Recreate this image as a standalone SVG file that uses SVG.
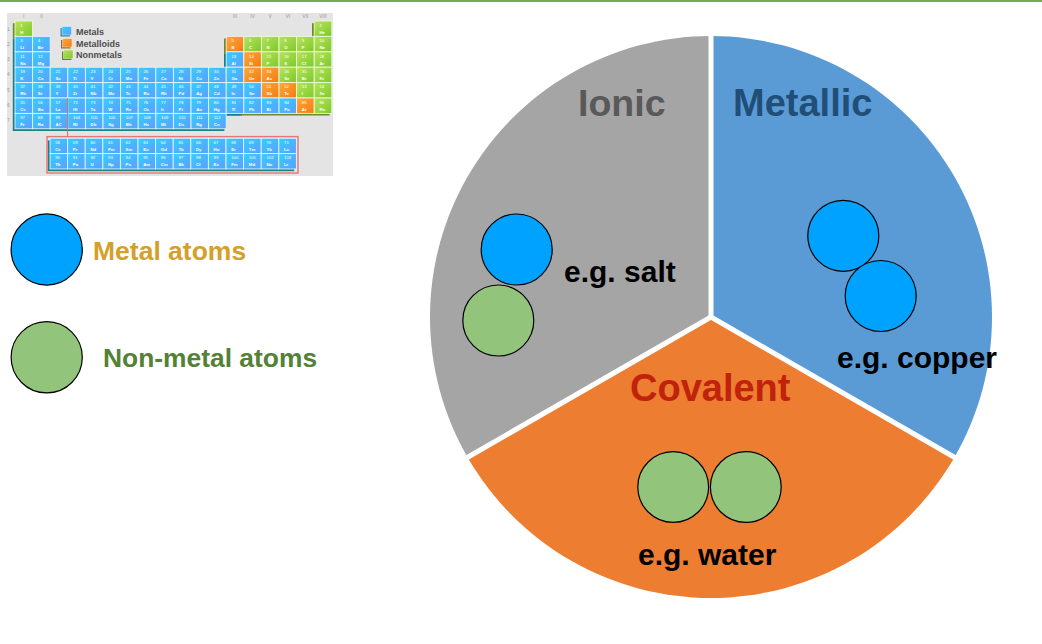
<svg xmlns="http://www.w3.org/2000/svg" width="1042" height="644" viewBox="0 0 1042 644">
<style>
.m{fill:url(#gm);stroke:#e3f4ff;stroke-width:0.9}
.n{fill:url(#gn);stroke:#eef8dc;stroke-width:0.9}
.o{fill:url(#go);stroke:#fff0de;stroke-width:0.9}
.tt text{font-family:"Liberation Sans",Arial,sans-serif;font-size:4.3px;fill:#ffffff}
.tt tspan{font-weight:bold}
.gl{font-family:"Liberation Sans",Arial,sans-serif;font-size:5px;fill:#9a9a9a;text-anchor:middle}
.lg{font-family:"Liberation Sans",Arial,sans-serif;font-size:9px;font-weight:bold;fill:#4d4d4d}
.big{font-family:"Liberation Sans",Arial,sans-serif;font-weight:bold}
.atom{stroke:#000;stroke-width:1.2}
.blue{fill:#00a2ff}
.green{fill:#93c47b}
.sep{stroke:#ffffff;stroke-width:5;fill:none}
.sht{fill:#1b7d86}
.sho{fill:#6f8a2a}
</style>
<defs>
<linearGradient id="gm" x1="0" y1="0" x2="1" y2="1"><stop offset="0" stop-color="#34d0ff"/><stop offset="1" stop-color="#5c9dff"/></linearGradient>
<linearGradient id="gn" x1="0" y1="0" x2="1" y2="1"><stop offset="0" stop-color="#b8e45a"/><stop offset="1" stop-color="#7cc82c"/></linearGradient>
<linearGradient id="go" x1="0" y1="0" x2="1" y2="1"><stop offset="0" stop-color="#ffa83a"/><stop offset="1" stop-color="#f27a12"/></linearGradient>
<rect id="cm" class="m" width="17.6" height="15.4"/>
<rect id="cn" class="n" width="17.6" height="15.4"/>
<rect id="co" class="o" width="17.6" height="15.4"/>
</defs>
<rect x="0" y="0" width="1042" height="644" fill="#ffffff"/>
<rect x="0" y="0" width="1042" height="2" fill="#78ab50"/>

<g id="periodic-table">
<rect x="7" y="13" width="326" height="163" fill="#e4e4e4"/>
<g>
<text class="gl" x="23.8" y="18">I</text><text class="gl" x="41.4" y="18">II</text>
<text class="gl" x="235" y="18">III</text><text class="gl" x="252.6" y="18">IV</text><text class="gl" x="270.2" y="18">V</text><text class="gl" x="287.8" y="18">VI</text><text class="gl" x="305.4" y="18">VII</text><text class="gl" x="323" y="18">VIII</text>
<text class="gl" x="8.5" y="31">1</text><text class="gl" x="8.5" y="46">2</text><text class="gl" x="8.5" y="61">3</text><text class="gl" x="8.5" y="76">4</text><text class="gl" x="8.5" y="92">5</text><text class="gl" x="8.5" y="107">6</text><text class="gl" x="8.5" y="122">7</text>
</g>
<g id="pt-shadows">
<polygon class="sht" points="12.8,38.6 48.4,38.6 48.4,69.4 224.4,69.4 224.4,131 12.8,131"/>
<rect class="sho" x="12.8" y="23.2" width="17.6" height="15.4"/>
<rect class="sho" x="312" y="23.2" width="17.6" height="15.4"/>
<polygon class="sho" points="224,38.6 329.6,38.6 329.6,115.6 224,115.6"/>
<rect class="sht" x="224" y="54" width="17.6" height="61.6"/>
<rect class="sht" x="47.8" y="140.4" width="246.4" height="30.8"/>
</g>
<g id="ptcells">
<use href="#cn" x="15" y="21"/><use href="#cn" x="314.2" y="21"/>
<use href="#cm" x="15" y="36.4"/><use href="#cm" x="32.6" y="36.4"/><use href="#co" x="226.2" y="36.4"/><use href="#cn" x="243.8" y="36.4"/><use href="#cn" x="261.4" y="36.4"/><use href="#cn" x="279" y="36.4"/><use href="#cn" x="296.6" y="36.4"/><use href="#cn" x="314.2" y="36.4"/>
<use href="#cm" x="15" y="51.8"/><use href="#cm" x="32.6" y="51.8"/><use href="#cm" x="226.2" y="51.8"/><use href="#co" x="243.8" y="51.8"/><use href="#cn" x="261.4" y="51.8"/><use href="#cn" x="279" y="51.8"/><use href="#cn" x="296.6" y="51.8"/><use href="#cn" x="314.2" y="51.8"/>
<use href="#cm" x="15" y="67.2"/><use href="#cm" x="32.6" y="67.2"/><use href="#cm" x="50.2" y="67.2"/><use href="#cm" x="67.8" y="67.2"/><use href="#cm" x="85.4" y="67.2"/><use href="#cm" x="103" y="67.2"/><use href="#cm" x="120.6" y="67.2"/><use href="#cm" x="138.2" y="67.2"/><use href="#cm" x="155.8" y="67.2"/><use href="#cm" x="173.4" y="67.2"/><use href="#cm" x="191" y="67.2"/><use href="#cm" x="208.6" y="67.2"/><use href="#cm" x="226.2" y="67.2"/><use href="#co" x="243.8" y="67.2"/><use href="#co" x="261.4" y="67.2"/><use href="#cn" x="279" y="67.2"/><use href="#cn" x="296.6" y="67.2"/><use href="#cn" x="314.2" y="67.2"/>
<use href="#cm" x="15" y="82.6"/><use href="#cm" x="32.6" y="82.6"/><use href="#cm" x="50.2" y="82.6"/><use href="#cm" x="67.8" y="82.6"/><use href="#cm" x="85.4" y="82.6"/><use href="#cm" x="103" y="82.6"/><use href="#cm" x="120.6" y="82.6"/><use href="#cm" x="138.2" y="82.6"/><use href="#cm" x="155.8" y="82.6"/><use href="#cm" x="173.4" y="82.6"/><use href="#cm" x="191" y="82.6"/><use href="#cm" x="208.6" y="82.6"/><use href="#cm" x="226.2" y="82.6"/><use href="#cm" x="243.8" y="82.6"/><use href="#co" x="261.4" y="82.6"/><use href="#co" x="279" y="82.6"/><use href="#cn" x="296.6" y="82.6"/><use href="#cn" x="314.2" y="82.6"/>
<use href="#cm" x="15" y="98"/><use href="#cm" x="32.6" y="98"/><use href="#cm" x="50.2" y="98"/><use href="#cm" x="67.8" y="98"/><use href="#cm" x="85.4" y="98"/><use href="#cm" x="103" y="98"/><use href="#cm" x="120.6" y="98"/><use href="#cm" x="138.2" y="98"/><use href="#cm" x="155.8" y="98"/><use href="#cm" x="173.4" y="98"/><use href="#cm" x="191" y="98"/><use href="#cm" x="208.6" y="98"/><use href="#cm" x="226.2" y="98"/><use href="#cm" x="243.8" y="98"/><use href="#cm" x="261.4" y="98"/><use href="#cm" x="279" y="98"/><use href="#co" x="296.6" y="98"/><use href="#cn" x="314.2" y="98"/>
<use href="#cm" x="15" y="113.4"/><use href="#cm" x="32.6" y="113.4"/><use href="#cm" x="50.2" y="113.4"/><use href="#cm" x="67.8" y="113.4"/><use href="#cm" x="85.4" y="113.4"/><use href="#cm" x="103" y="113.4"/><use href="#cm" x="120.6" y="113.4"/><use href="#cm" x="138.2" y="113.4"/><use href="#cm" x="155.8" y="113.4"/><use href="#cm" x="173.4" y="113.4"/><use href="#cm" x="191" y="113.4"/><use href="#cm" x="208.6" y="113.4"/>
<use href="#cm" x="50" y="138.2"/><use href="#cm" x="67.6" y="138.2"/><use href="#cm" x="85.2" y="138.2"/><use href="#cm" x="102.8" y="138.2"/><use href="#cm" x="120.4" y="138.2"/><use href="#cm" x="138" y="138.2"/><use href="#cm" x="155.6" y="138.2"/><use href="#cm" x="173.2" y="138.2"/><use href="#cm" x="190.8" y="138.2"/><use href="#cm" x="208.4" y="138.2"/><use href="#cm" x="226" y="138.2"/><use href="#cm" x="243.6" y="138.2"/><use href="#cm" x="261.2" y="138.2"/><use href="#cm" x="278.8" y="138.2"/>
<use href="#cm" x="50" y="153.6"/><use href="#cm" x="67.6" y="153.6"/><use href="#cm" x="85.2" y="153.6"/><use href="#cm" x="102.8" y="153.6"/><use href="#cm" x="120.4" y="153.6"/><use href="#cm" x="138" y="153.6"/><use href="#cm" x="155.6" y="153.6"/><use href="#cm" x="173.2" y="153.6"/><use href="#cm" x="190.8" y="153.6"/><use href="#cm" x="208.4" y="153.6"/><use href="#cm" x="226" y="153.6"/><use href="#cm" x="243.6" y="153.6"/><use href="#cm" x="261.2" y="153.6"/><use href="#cm" x="278.8" y="153.6"/>
</g>
<rect x="47" y="136.6" width="251" height="36.4" fill="none" stroke="#ea7474" stroke-width="1.4"/>
<line x1="67.6" y1="98" x2="67.6" y2="136.6" stroke="#e06666" stroke-width="1"/>
<g class="tt">
<text x="20.2" y="26.8">1<tspan x="20.2" dy="7">H</tspan></text><text x="319.4" y="26.8">2<tspan x="319.4" dy="7">He</tspan></text>
<text x="20.2" y="42.2">3<tspan x="20.2" dy="7">Li</tspan></text><text x="37.8" y="42.2">4<tspan x="37.8" dy="7">Be</tspan></text><text x="231.4" y="42.2">5<tspan x="231.4" dy="7">B</tspan></text><text x="249" y="42.2">6<tspan x="249" dy="7">C</tspan></text><text x="266.6" y="42.2">7<tspan x="266.6" dy="7">N</tspan></text><text x="284.2" y="42.2">8<tspan x="284.2" dy="7">O</tspan></text><text x="301.8" y="42.2">9<tspan x="301.8" dy="7">F</tspan></text><text x="319.4" y="42.2">10<tspan x="319.4" dy="7">Ne</tspan></text>
<text x="20.2" y="57.6">11<tspan x="20.2" dy="7">Na</tspan></text><text x="37.8" y="57.6">12<tspan x="37.8" dy="7">Mg</tspan></text><text x="231.4" y="57.6">13<tspan x="231.4" dy="7">Al</tspan></text><text x="249" y="57.6">14<tspan x="249" dy="7">Si</tspan></text><text x="266.6" y="57.6">15<tspan x="266.6" dy="7">P</tspan></text><text x="284.2" y="57.6">16<tspan x="284.2" dy="7">S</tspan></text><text x="301.8" y="57.6">17<tspan x="301.8" dy="7">Cl</tspan></text><text x="319.4" y="57.6">18<tspan x="319.4" dy="7">Ar</tspan></text>
<text x="20.2" y="73">19<tspan x="20.2" dy="7">K</tspan></text><text x="37.8" y="73">20<tspan x="37.8" dy="7">Ca</tspan></text><text x="55.4" y="73">21<tspan x="55.4" dy="7">Sc</tspan></text><text x="73" y="73">22<tspan x="73" dy="7">Ti</tspan></text><text x="90.6" y="73">23<tspan x="90.6" dy="7">V</tspan></text><text x="108.2" y="73">24<tspan x="108.2" dy="7">Cr</tspan></text><text x="125.8" y="73">25<tspan x="125.8" dy="7">Mn</tspan></text><text x="143.4" y="73">26<tspan x="143.4" dy="7">Fe</tspan></text><text x="161" y="73">27<tspan x="161" dy="7">Co</tspan></text><text x="178.6" y="73">28<tspan x="178.6" dy="7">Ni</tspan></text><text x="196.2" y="73">29<tspan x="196.2" dy="7">Cu</tspan></text><text x="213.8" y="73">30<tspan x="213.8" dy="7">Zn</tspan></text><text x="231.4" y="73">31<tspan x="231.4" dy="7">Ga</tspan></text><text x="249" y="73">32<tspan x="249" dy="7">Ge</tspan></text><text x="266.6" y="73">33<tspan x="266.6" dy="7">As</tspan></text><text x="284.2" y="73">34<tspan x="284.2" dy="7">Se</tspan></text><text x="301.8" y="73">35<tspan x="301.8" dy="7">Br</tspan></text><text x="319.4" y="73">36<tspan x="319.4" dy="7">Kr</tspan></text>
<text x="20.2" y="88.4">37<tspan x="20.2" dy="7">Rb</tspan></text><text x="37.8" y="88.4">38<tspan x="37.8" dy="7">Sr</tspan></text><text x="55.4" y="88.4">39<tspan x="55.4" dy="7">Y</tspan></text><text x="73" y="88.4">40<tspan x="73" dy="7">Zr</tspan></text><text x="90.6" y="88.4">41<tspan x="90.6" dy="7">Nb</tspan></text><text x="108.2" y="88.4">42<tspan x="108.2" dy="7">Mo</tspan></text><text x="125.8" y="88.4">43<tspan x="125.8" dy="7">Tc</tspan></text><text x="143.4" y="88.4">44<tspan x="143.4" dy="7">Ru</tspan></text><text x="161" y="88.4">45<tspan x="161" dy="7">Rh</tspan></text><text x="178.6" y="88.4">46<tspan x="178.6" dy="7">Pd</tspan></text><text x="196.2" y="88.4">47<tspan x="196.2" dy="7">Ag</tspan></text><text x="213.8" y="88.4">48<tspan x="213.8" dy="7">Cd</tspan></text><text x="231.4" y="88.4">49<tspan x="231.4" dy="7">In</tspan></text><text x="249" y="88.4">50<tspan x="249" dy="7">Sn</tspan></text><text x="266.6" y="88.4">51<tspan x="266.6" dy="7">Sb</tspan></text><text x="284.2" y="88.4">52<tspan x="284.2" dy="7">Te</tspan></text><text x="301.8" y="88.4">53<tspan x="301.8" dy="7">I</tspan></text><text x="319.4" y="88.4">54<tspan x="319.4" dy="7">Xe</tspan></text>
<text x="20.2" y="103.8">55<tspan x="20.2" dy="7">Cs</tspan></text><text x="37.8" y="103.8">56<tspan x="37.8" dy="7">Ba</tspan></text><text x="55.4" y="103.8">57<tspan x="55.4" dy="7">La</tspan></text><text x="73" y="103.8">72<tspan x="73" dy="7">Hf</tspan></text><text x="90.6" y="103.8">73<tspan x="90.6" dy="7">Ta</tspan></text><text x="108.2" y="103.8">74<tspan x="108.2" dy="7">W</tspan></text><text x="125.8" y="103.8">75<tspan x="125.8" dy="7">Re</tspan></text><text x="143.4" y="103.8">76<tspan x="143.4" dy="7">Os</tspan></text><text x="161" y="103.8">77<tspan x="161" dy="7">Ir</tspan></text><text x="178.6" y="103.8">78<tspan x="178.6" dy="7">Pt</tspan></text><text x="196.2" y="103.8">79<tspan x="196.2" dy="7">Au</tspan></text><text x="213.8" y="103.8">80<tspan x="213.8" dy="7">Hg</tspan></text><text x="231.4" y="103.8">81<tspan x="231.4" dy="7">Tl</tspan></text><text x="249" y="103.8">82<tspan x="249" dy="7">Pb</tspan></text><text x="266.6" y="103.8">83<tspan x="266.6" dy="7">Bi</tspan></text><text x="284.2" y="103.8">84<tspan x="284.2" dy="7">Po</tspan></text><text x="301.8" y="103.8">85<tspan x="301.8" dy="7">At</tspan></text><text x="319.4" y="103.8">86<tspan x="319.4" dy="7">Rn</tspan></text>
<text x="20.2" y="119.2">87<tspan x="20.2" dy="7">Fr</tspan></text><text x="37.8" y="119.2">88<tspan x="37.8" dy="7">Ra</tspan></text><text x="55.4" y="119.2">89<tspan x="55.4" dy="7">AC</tspan></text><text x="73" y="119.2">104<tspan x="73" dy="7">Rf</tspan></text><text x="90.6" y="119.2">105<tspan x="90.6" dy="7">Db</tspan></text><text x="108.2" y="119.2">106<tspan x="108.2" dy="7">Sg</tspan></text><text x="125.8" y="119.2">107<tspan x="125.8" dy="7">Bh</tspan></text><text x="143.4" y="119.2">108<tspan x="143.4" dy="7">Hs</tspan></text><text x="161" y="119.2">109<tspan x="161" dy="7">Mt</tspan></text><text x="178.6" y="119.2">110<tspan x="178.6" dy="7">Ds</tspan></text><text x="196.2" y="119.2">111<tspan x="196.2" dy="7">Rg</tspan></text><text x="213.8" y="119.2">112<tspan x="213.8" dy="7">Cn</tspan></text>
<text x="55.2" y="144">58<tspan x="55.2" dy="7">Ce</tspan></text><text x="72.8" y="144">59<tspan x="72.8" dy="7">Pr</tspan></text><text x="90.4" y="144">60<tspan x="90.4" dy="7">Nd</tspan></text><text x="108" y="144">61<tspan x="108" dy="7">Pm</tspan></text><text x="125.6" y="144">62<tspan x="125.6" dy="7">Sm</tspan></text><text x="143.2" y="144">63<tspan x="143.2" dy="7">Eu</tspan></text><text x="160.8" y="144">64<tspan x="160.8" dy="7">Gd</tspan></text><text x="178.4" y="144">65<tspan x="178.4" dy="7">Tb</tspan></text><text x="196" y="144">66<tspan x="196" dy="7">Dy</tspan></text><text x="213.6" y="144">67<tspan x="213.6" dy="7">Ho</tspan></text><text x="231.2" y="144">68<tspan x="231.2" dy="7">Er</tspan></text><text x="248.8" y="144">69<tspan x="248.8" dy="7">Tm</tspan></text><text x="266.4" y="144">70<tspan x="266.4" dy="7">Yb</tspan></text><text x="284" y="144">71<tspan x="284" dy="7">Lu</tspan></text>
<text x="55.2" y="159.4">90<tspan x="55.2" dy="7">Th</tspan></text><text x="72.8" y="159.4">91<tspan x="72.8" dy="7">Pa</tspan></text><text x="90.4" y="159.4">92<tspan x="90.4" dy="7">U</tspan></text><text x="108" y="159.4">93<tspan x="108" dy="7">Np</tspan></text><text x="125.6" y="159.4">94<tspan x="125.6" dy="7">Pu</tspan></text><text x="143.2" y="159.4">95<tspan x="143.2" dy="7">Am</tspan></text><text x="160.8" y="159.4">96<tspan x="160.8" dy="7">Cm</tspan></text><text x="178.4" y="159.4">97<tspan x="178.4" dy="7">Bk</tspan></text><text x="196" y="159.4">98<tspan x="196" dy="7">Cf</tspan></text><text x="213.6" y="159.4">99<tspan x="213.6" dy="7">Es</tspan></text><text x="231.2" y="159.4">100<tspan x="231.2" dy="7">Fm</tspan></text><text x="248.8" y="159.4">101<tspan x="248.8" dy="7">Md</tspan></text><text x="266.4" y="159.4">102<tspan x="266.4" dy="7">No</tspan></text><text x="284" y="159.4">103<tspan x="284" dy="7">Lr</tspan></text>
</g>
<g id="table-legend">
<rect x="60.5" y="28" width="9.5" height="8.5" fill="#3a7f8a"/><rect x="62" y="26.5" width="9.5" height="8.5" fill="url(#gm)" stroke="#e3f4ff" stroke-width="0.5"/>
<rect x="61" y="40" width="9.5" height="8.5" fill="#8a6a3a"/><rect x="62.5" y="38.5" width="9.5" height="8.5" fill="url(#go)" stroke="#fff0de" stroke-width="0.5"/>
<rect x="62" y="51.5" width="9.5" height="8.5" fill="#6a7a3a"/><rect x="63.5" y="50" width="9.5" height="8.5" fill="url(#gn)" stroke="#eef8dc" stroke-width="0.5"/>
<text class="lg" x="76" y="34.5">Metals</text>
<text class="lg" x="76" y="46.5">Metalloids</text>
<text class="lg" x="76" y="58">Nonmetals</text>
</g>
</g>

<g id="legend-metal">
<circle class="atom blue" cx="46.7" cy="249.5" r="35.6"/>
<text class="big" x="93" y="260" font-size="26.5" fill="#d4a02a">Metal atoms</text>
</g>
<g id="legend-nonmetal">
<circle class="atom green" cx="46.7" cy="357.3" r="35.6"/>
<text class="big" x="103" y="366.5" font-size="26.4" fill="#538135">Non-metal atoms</text>
</g>

<g id="pie">
<g id="ionic">
<path d="M711,317 L711,36 A281,281 0 0,0 467.65,457.5 Z" fill="#a5a5a5"/>
</g>
<g id="metallic">
<path d="M711,317 L711,36 A281,281 0 0,1 954.35,457.5 Z" fill="#5b9bd5"/>
</g>
<g id="covalent">
<path d="M711,317 L467.65,457.5 A281,281 0 0,0 954.35,457.5 Z" fill="#ed7d31"/>
</g>
<g id="separators">
<line class="sep" x1="711" y1="317" x2="711" y2="30"/>
<line class="sep" x1="711" y1="317" x2="462" y2="460.5"/>
<line class="sep" x1="711" y1="317" x2="960" y2="460.5"/>
</g>
<g id="ionic-content">
<text class="big" x="578" y="116" font-size="37.5" fill="#595959">Ionic</text>
<circle class="atom blue" cx="516.7" cy="249.5" r="35.5"/>
<circle class="atom green" cx="498.3" cy="320.5" r="35.5"/>
<text class="big" x="564" y="281.5" font-size="30" fill="#000">e.g. salt</text>
</g>
<g id="metallic-content">
<text class="big" x="733" y="116" font-size="38" fill="#1f4e79">Metallic</text>
<circle class="atom blue" cx="843.3" cy="235.8" r="35.5"/>
<circle class="atom blue" cx="880.7" cy="296" r="35.5"/>
<text class="big" x="837" y="367.5" font-size="30" fill="#000">e.g. copper</text>
</g>
<g id="covalent-content">
<text class="big" x="630" y="401" font-size="38" fill="#c0220b">Covalent</text>
<circle class="atom green" cx="673.2" cy="487" r="35.4"/>
<circle class="atom green" cx="745.8" cy="487" r="35.4"/>
<text class="big" x="638" y="564.5" font-size="30" fill="#000">e.g. water</text>
</g>
</g>
</svg>
